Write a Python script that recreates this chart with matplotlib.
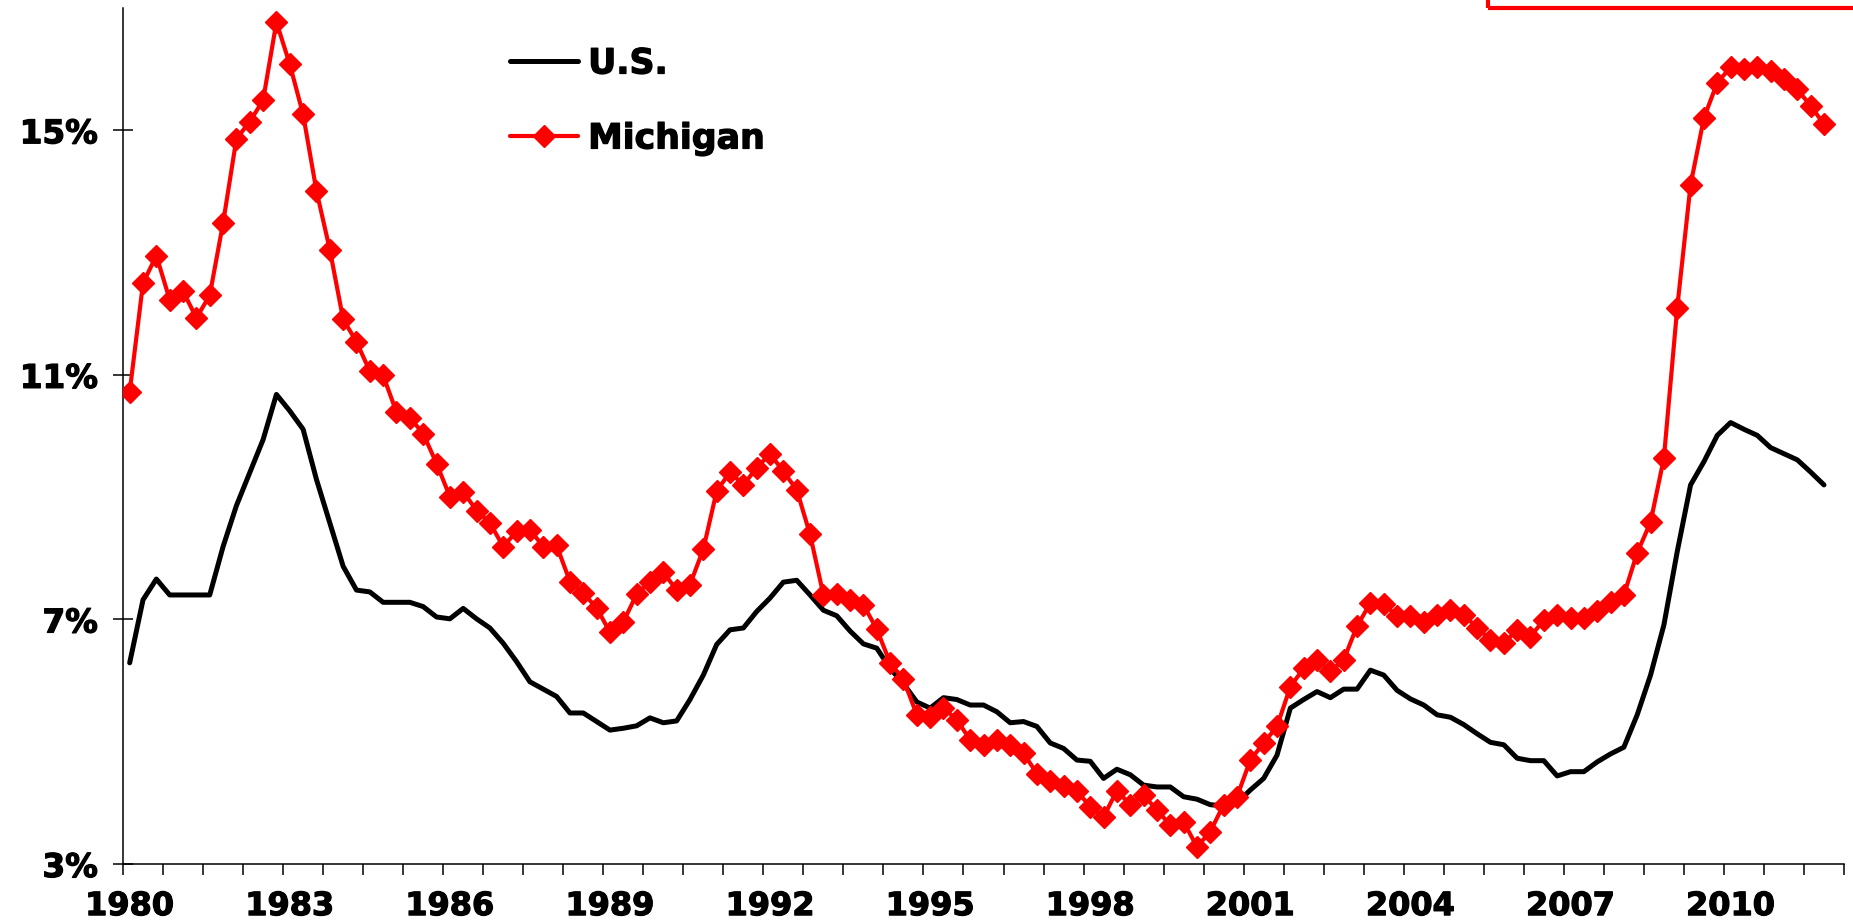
import matplotlib
matplotlib.use("Agg")
import matplotlib.pyplot as plt
import matplotlib.patheffects as pe
from matplotlib.patches import Rectangle
from matplotlib.ticker import FixedLocator, NullFormatter

# Quarterly categories, 1980Q1 .. 2011Q4 (axis has room for one more quarter)
quarters = [f"{y}Q{q}" for y in range(1980, 2012) for q in range(1, 5)]
n_categories = 129

us_rate = [
    6.29, 7.32, 7.66, 7.40, 7.40, 7.40, 7.40, 8.19,
    8.86, 9.40, 9.94, 10.68, 10.41, 10.11, 9.29, 8.58,
    7.87, 7.48, 7.45, 7.28, 7.28, 7.28, 7.21, 7.04,
    7.01, 7.18, 7.01, 6.86, 6.61, 6.31, 5.98, 5.86,
    5.74, 5.47, 5.47, 5.33, 5.19, 5.22, 5.26, 5.39,
    5.31, 5.34, 5.69, 6.09, 6.59, 6.83, 6.86, 7.13,
    7.35, 7.61, 7.64, 7.40, 7.15, 7.06, 6.81, 6.60,
    6.53, 6.20, 5.95, 5.65, 5.55, 5.72, 5.69, 5.60,
    5.60, 5.49, 5.31, 5.33, 5.25, 4.98, 4.89, 4.70,
    4.68, 4.40, 4.55, 4.46, 4.29, 4.26, 4.26, 4.10,
    4.06, 3.97, 3.95, 4.00, 4.21, 4.40, 4.78, 5.55,
    5.69, 5.82, 5.72, 5.86, 5.86, 6.17, 6.09, 5.84,
    5.70, 5.60, 5.44, 5.40, 5.28, 5.13, 4.99, 4.95,
    4.73, 4.69, 4.69, 4.44, 4.51, 4.51, 4.67, 4.80,
    4.91, 5.44, 6.09, 6.91, 8.11, 9.20, 9.58, 10.01,
    10.22, 10.11, 10.01, 9.81, 9.71, 9.61, 9.41, 9.20,
]

michigan_rate = [
    10.72, 12.50, 12.95, 12.23, 12.37, 11.93, 12.30, 13.48,
    14.86, 15.14, 15.49, 16.77, 16.08, 15.26, 14.01, 13.05,
    11.91, 11.54, 11.06, 10.99, 10.39, 10.30, 10.04, 9.55,
    9.01, 9.09, 8.78, 8.58, 8.19, 8.44, 8.47, 8.19,
    8.21, 7.62, 7.43, 7.19, 6.79, 6.96, 7.41, 7.62,
    7.77, 7.48, 7.57, 8.15, 9.10, 9.41, 9.20, 9.48,
    9.71, 9.42, 9.12, 8.39, 7.40, 7.42, 7.32, 7.24,
    6.84, 6.29, 6.02, 5.44, 5.41, 5.55, 5.36, 5.03,
    4.95, 5.03, 4.95, 4.81, 4.48, 4.35, 4.27, 4.19,
    3.94, 3.77, 4.20, 3.97, 4.13, 3.88, 3.64, 3.69,
    3.28, 3.53, 3.97, 4.10, 4.70, 4.98, 5.25, 5.90,
    6.20, 6.34, 6.15, 6.34, 6.89, 7.27, 7.26, 7.05,
    7.06, 6.95, 7.08, 7.16, 7.08, 6.86, 6.67, 6.61,
    6.83, 6.72, 6.99, 7.08, 7.02, 7.02, 7.13, 7.29,
    7.40, 8.09, 8.59, 9.64, 12.10, 14.11, 15.20, 15.78,
    16.03, 16.01, 16.03, 15.97, 15.84, 15.67, 15.40, 15.10,
]

year_labels = [str(y) for y in range(1980, 2011, 3)]
y_ticks = [3, 7, 11, 15]
y_tick_labels = [f"{v}%" for v in y_ticks]

plt.rcParams['font.family'] = ['DejaVu Sans']
plt.rcParams['font.weight'] = 'bold'

W, H = 1853, 921
fig = plt.figure(figsize=(W / 100, H / 100), dpi=100)
ax = fig.add_axes([123 / W, (H - 864) / H, (1844 - 123) / W, (864 - 8) / H])

x = list(range(len(quarters)))
ax.plot(x, us_rate, color='black', lw=3.6, solid_joinstyle='round',
        solid_capstyle='round', label='U.S.', zorder=2)
ax.plot(x, michigan_rate, color='#ff0000', lw=3.0, marker='D', ms=11.5,
        mew=1, mec='#ff0000', solid_joinstyle='round', solid_capstyle='round',
        label='Michigan', zorder=3)

ax.set_xlim(-0.5, n_categories - 0.5)
ax.set_ylim(3, 17)

# x axis: tick marks every 3 quarters, labels every 12 quarters
label_pos = [quarters.index(f"{y}Q1") for y in year_labels]
ax.set_xticks(label_pos)
ax.set_xticklabels(year_labels)
ax.xaxis.set_minor_locator(FixedLocator([k * 3 - 0.5 for k in range(0, n_categories // 3 + 1)]))
ax.xaxis.set_minor_formatter(NullFormatter())
ax.tick_params(axis='x', which='major', length=0, pad=19.5, labelsize=23)
ax.tick_params(axis='x', which='minor', direction='out', length=8, width=1.1)

ax.set_yticks(y_ticks)
ax.set_yticklabels(y_tick_labels)
ax.tick_params(axis='y', which='major', direction='inout', length=14.4, width=1.1,
               pad=11, labelsize=23.5)

heavy = [pe.withStroke(linewidth=0.9, foreground='black')]
for lab in ax.get_xticklabels() + ax.get_yticklabels():
    lab.set_fontweight('bold')
    lab.set_path_effects(heavy)

ax.spines['top'].set_visible(False)
ax.spines['right'].set_visible(False)
ax.spines['left'].set_linewidth(1.1)
ax.spines['bottom'].set_linewidth(1.1)

leg = ax.legend(loc='upper left', bbox_to_anchor=(510 / W, 1 - 46.5 / H),
                bbox_transform=fig.transFigure, frameon=False,
                prop={'weight': 'bold', 'size': 25}, borderpad=0, borderaxespad=0,
                handlelength=1.96, handletextpad=0.29, labelspacing=1.18)
for t in leg.get_texts():
    t.set_path_effects(heavy)

# red outline box partly visible at top right
fig.patches.append(Rectangle((1488 / W, 1 - 8 / H), 0.5, 0.5, transform=fig.transFigure,
                             fill=False, edgecolor='#ff0000', lw=3, clip_on=False))

fig.savefig('out.png', dpi=100)
